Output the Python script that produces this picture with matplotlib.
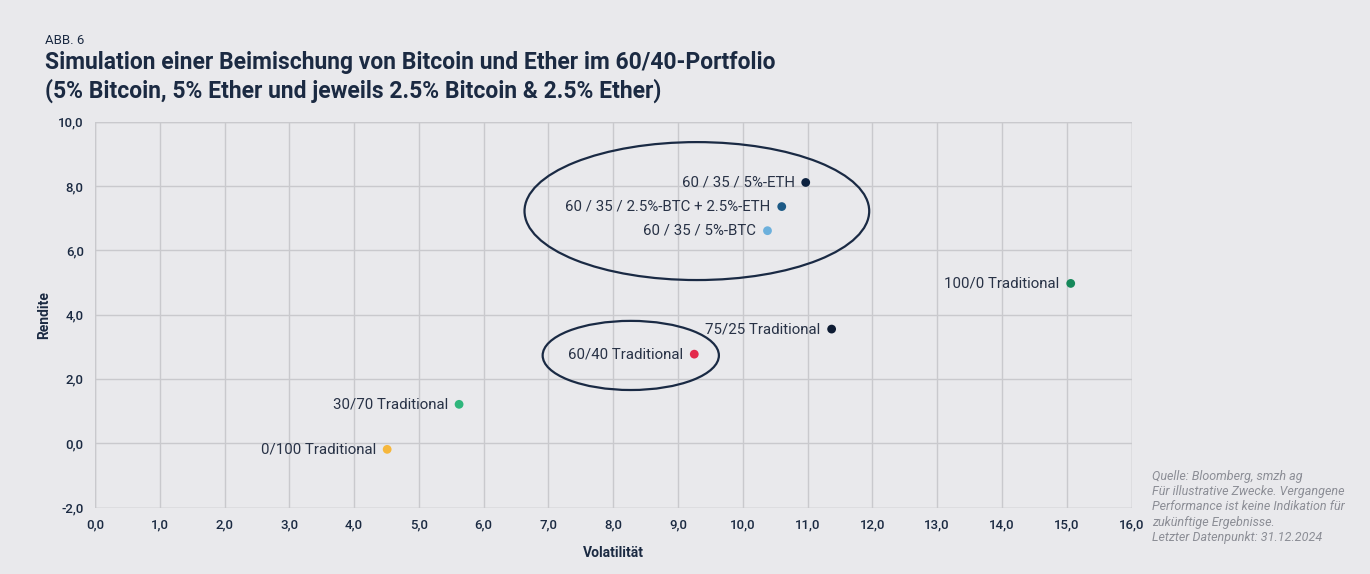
import matplotlib
matplotlib.use("Agg")
import matplotlib.pyplot as plt
from matplotlib.patches import Ellipse

# data
labels = ["60 / 35 / 5%-ETH", "60 / 35 / 2.5%-BTC + 2.5%-ETH", "60 / 35 / 5%-BTC",
          "100/0 Traditional", "75/25 Traditional", "60/40 Traditional",
          "30/70 Traditional", "0/100 Traditional"]
volatility = [10.97, 10.60, 10.38, 15.06, 11.37, 9.25, 5.62, 4.51]
rendite = [8.11, 7.36, 6.61, 4.97, 3.55, 2.77, 1.21, -0.19]
colors = ["#0d2240", "#1d5a86", "#6cb0dc", "#16885a", "#0e1c33",
          "#e3294a", "#2fb67c", "#f6b73c"]

x_ticks = list(range(0, 17))
y_ticks = list(range(-2, 11, 2))

BG = "#e9e9ec"
NAVY = "#1b2a42"
plt.rcParams["font.family"] = ["Roboto", "DejaVu Sans"]

fig = plt.figure(figsize=(13.7, 5.74), dpi=100, facecolor=BG)
ax = fig.add_axes([0.0693, 0.1158, 0.7567, 0.6722], facecolor=BG)

ax.set_xlim(0, 16)
ax.set_ylim(-2, 10)
ax.set_xticks(x_ticks)
ax.set_yticks(y_ticks)
ax.set_xticklabels([f"{v:.1f}".replace(".", ",") for v in x_ticks])
ax.set_yticklabels([f"{v:.1f}".replace(".", ",") for v in y_ticks])
ax.tick_params(length=0, labelsize=9.5, labelcolor=NAVY, pad=8)
for lab in ax.get_xticklabels() + ax.get_yticklabels():
    lab.set_fontweight("medium")
ax.grid(color="#c9c9cd", linewidth=1)
ax.set_axisbelow(True)
for sp in ax.spines.values():
    sp.set_visible(False)
ax.axvline(0, color="#c9c9cd", lw=1, zorder=0)
ax.axvline(16, color="#c9c9cd", lw=1, zorder=0)
ax.axhline(-2, color="#c9c9cd", lw=1, zorder=0)
ax.axhline(10, color="#c9c9cd", lw=1, zorder=0)

ax.scatter(volatility, rendite, s=40, c=colors, zorder=3, linewidths=0)
for x, y, t in zip(volatility, rendite, labels):
    ax.annotate(t, (x, y), textcoords="offset points", xytext=(-8, 0),
                ha="right", va="center", fontsize=10.8, color="#283246")

ax.add_patch(Ellipse((9.29, 7.22), 5.32, 4.29, fill=False, ec="#1a2a44", lw=1.6))
ax.add_patch(Ellipse((8.27, 2.73), 2.72, 2.15, fill=False, ec="#1a2a44", lw=1.6))

ax.set_xlabel("Volatilität", fontsize=10, fontweight="bold", color=NAVY, labelpad=10)
ax.set_ylabel("Rendite", fontsize=10, fontweight="bold", color=NAVY, labelpad=5)

fig.text(45 / 1370, 1 - 40 / 574, "ABB. 6", fontsize=9.5, color=NAVY, va="center")
fig.text(45 / 1370, 1 - 77 / 574,
         "Simulation einer Beimischung von Bitcoin und Ether im 60/40-Portfolio\n"
         "(5% Bitcoin, 5% Ether und jeweils 2.5% Bitcoin & 2.5% Ether)",
         fontsize=16.5, fontweight="bold", color=NAVY, va="center", linespacing=1.2)

fig.text(1152 / 1370, 1 - 507 / 574,
         "Quelle: Bloomberg, smzh ag\n"
         "Für illustrative Zwecke. Vergangene\n"
         "Performance ist keine Indikation für\n"
         "zukünftige Ergebnisse.\n"
         "Letzter Datenpunkt: 31.12.2024",
         fontsize=9, style="italic", color="#8c8e96", va="center", linespacing=1.22)

fig.savefig("out.png", dpi=100, facecolor=BG)
